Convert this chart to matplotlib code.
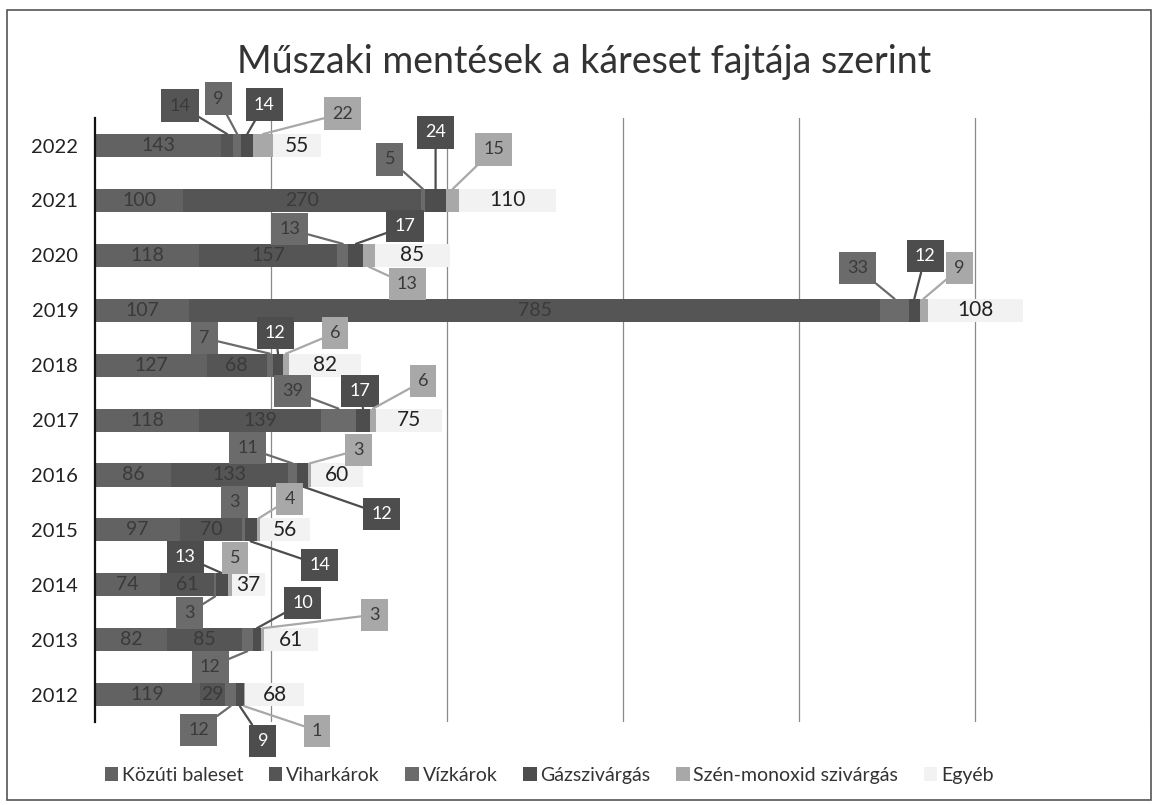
import matplotlib
matplotlib.use("Agg")
import matplotlib.pyplot as plt
from matplotlib.patches import Patch, Rectangle
import numpy as np

plt.rcParams['font.family'] = ['Lato', 'DejaVu Sans']

years = ['2012', '2013', '2014', '2015', '2016', '2017', '2018', '2019', '2020', '2021', '2022']
series = ['Közúti baleset', 'Viharkárok', 'Vízkárok', 'Gázszivárgás', 'Szén-monoxid szivárgás', 'Egyéb']
kozuti   = [119, 82, 74, 97, 86, 118, 127, 107, 118, 100, 143]
vihar    = [29, 85, 61, 70, 133, 139, 68, 785, 157, 270, 14]
viz      = [12, 12, 3, 3, 11, 39, 7, 33, 13, 5, 9]
gaz      = [9, 10, 13, 14, 12, 17, 12, 12, 17, 24, 14]
co       = [1, 3, 5, 4, 3, 6, 6, 9, 13, 15, 22]
egyeb    = [68, 61, 37, 56, 60, 75, 82, 108, 85, 110, 55]
values = [kozuti, vihar, viz, gaz, co, egyeb]

colors = ['#626262', '#555555', '#6b6b6b', '#4d4d4d', '#a8a8a8', '#f2f2f2']
text_colors = ['#3a3a3a', '#3a3a3a', '#3a3a3a', '#ffffff', '#3a3a3a', '#222222']

# callout offsets (pixels) of the label box from the segment centre
callouts = {
    (1, 10): (-47, 40), (2, 10): (-19, 47), (3, 10): (17, 41), (4, 10): (79, 32),
    (2, 9): (-33, 41), (3, 9): (0, 68), (4, 9): (41, 51),
    (2, 8): (-53, 26), (3, 8): (49, 29), (4, 8): (38, -29),
    (2, 7): (-37, 42), (3, 7): (11, 54), (4, 7): (36, 42),
    (2, 6): (-65, 27), (3, 6): (-3, 32), (4, 6): (49, 32),
    (2, 5): (-46, 29), (3, 5): (-3, 29), (4, 5): (50, 39),
    (2, 4): (-45, 27), (3, 4): (79, -39), (4, 4): (49, 25),
    (2, 3): (-9, 28), (3, 3): (69, -35), (4, 3): (31, 31),
    (2, 2): (-26, -28), (3, 2): (-37, 28), (4, 2): (5, 27),
    (2, 1): (-37, -27), (3, 1): (46, 37), (4, 1): (112, 25),
    (2, 0): (-32, -35), (3, 0): (23, -46), (4, 0): (73, -36),
}

W, H = 1156, 805
fig = plt.figure(figsize=(W / 100, H / 100), dpi=100)
ax_pos = [0.0822, 0.103, 0.9135, 0.7503]
ax = fig.add_axes(ax_pos)

y = np.arange(len(years))
bar_h = 0.42
px_per_cat = ax_pos[3] * H / len(years)
half_px = bar_h / 2 * px_per_cat

left = np.zeros(len(years))
for si, vals in enumerate(values):
    vals = np.array(vals, dtype=float)
    ax.barh(y, vals, left=left, height=bar_h, color=colors[si], zorder=2)
    for yi in range(len(years)):
        cx = left[yi] + vals[yi] / 2
        key = (si, yi)
        if key in callouts:
            dx, dy = callouts[key]
            sign = 1 if dy > 0 else -1
            ty = y[yi] + sign * bar_h / 2
            ax.annotate(str(int(vals[yi])), xy=(cx, ty), xytext=(dx, dy - sign * half_px),
                        textcoords='offset pixels', ha='center', va='center',
                        fontsize=13, color=text_colors[si], zorder=5,
                        bbox=dict(boxstyle='square,pad=0.45', fc=colors[si], ec='none'),
                        arrowprops=dict(arrowstyle='-', color=colors[si], lw=1.6,
                                        shrinkA=0, shrinkB=0))
        else:
            fs = 15 if si == 5 else 14
            ax.text(cx, y[yi], str(int(vals[yi])), ha='center', va='center',
                    fontsize=fs, color=text_colors[si], zorder=4)
    left += vals

ax.set_xlim(0, 1200)
ax.set_ylim(-0.5, len(years) - 0.5)
ax.set_xticks(np.arange(200, 1201, 200))
ax.set_xticklabels([])
ax.tick_params(axis='x', length=0)
ax.set_yticks(y)
ax.set_yticklabels(years, fontsize=14.5, color='#222222')
ax.tick_params(axis='y', length=0, pad=12)
ax.grid(axis='x', color='#8a8a8a', lw=0.9, zorder=0)
for s in ['top', 'right', 'bottom']:
    ax.spines[s].set_visible(False)
ax.spines['left'].set_color('#111111')
ax.spines['left'].set_linewidth(1.6)
ax.spines['left'].set_zorder(6)

fig.text(0.505, 1 - 62 / H, 'Műszaki mentések a káreset fajtája szerint',
         ha='center', va='center', fontsize=27, color='#333333')

handles = [Patch(facecolor=c, edgecolor='none') for c in colors]
fig.legend(handles, series, loc='center', bbox_to_anchor=(0.475, 1 - 775 / H),
           ncol=6, frameon=False, fontsize=14, handlelength=0.7, handleheight=0.7,
           handletextpad=0.2, columnspacing=1.3, labelcolor='#333333')

fig.patches.append(Rectangle((7 / W, 1 - 800 / H), 1144 / W, 790 / H,
                             transform=fig.transFigure, fill=False, ec='#555555', lw=1.2))

fig.savefig('out.png', dpi=100)
